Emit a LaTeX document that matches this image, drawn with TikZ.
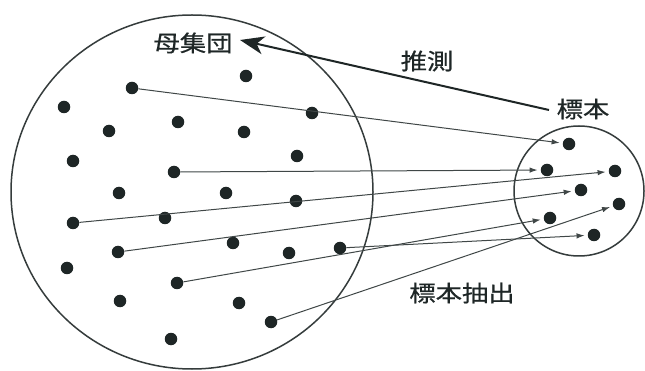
\documentclass[tikz,border=0pt]{standalone}
\usepackage{fontspec}
\newfontfamily\jpfont[FakeBold=0.6]{Noto Sans CJK JP}
\usetikzlibrary{arrows.meta}
\definecolor{ink}{HTML}{1E2626}
\tikzset{
  dot/.style={circle,fill=ink,inner sep=0pt,minimum size=12.5pt},
  lbl/.style={inner sep=0pt,text=ink,font=\jpfont\fontsize{22.5}{24}\selectfont},
  pick/.style={draw=ink!85,line width=1pt,-{Latex[length=8pt,width=5.5pt]},shorten >=3pt},
  infer/.style={draw=ink,line width=2pt,-{Stealth[length=24pt,width=18pt,inset=7pt]}},
  ring/.style={draw=ink!90,line width=1.5pt}
}
\newcommand{\wj}[1]{\scalebox{1.17}[1]{#1}}
\begin{document}
\begin{tikzpicture}[x=1pt,y=-1pt]
\useasboundingbox (0,0) rectangle (645,371);
\fill[white] (0,0) rectangle (645,371);
% circles
\draw[ring] (192,192) ellipse [x radius=181, y radius=177];
\draw[ring] (579,191) circle (65);
% population dots
\node[dot] (p1) at (246,76) {};
\node[dot] (p2) at (132,88) {};
\node[dot] (p3) at (64,107) {};
\node[dot] (p4) at (312,113) {};
\node[dot] (p5) at (178,122) {};
\node[dot] (p6) at (109,131) {};
\node[dot] (p7) at (244,132) {};
\node[dot] (p8) at (73,161) {};
\node[dot] (p9) at (297,156) {};
\node[dot] (p10) at (174,172) {};
\node[dot] (p11) at (119,193) {};
\node[dot] (p12) at (226,193) {};
\node[dot] (p13) at (296,201) {};
\node[dot] (p14) at (73,223) {};
\node[dot] (p15) at (165,218) {};
\node[dot] (p16) at (118,252) {};
\node[dot] (p17) at (233,243) {};
\node[dot] (p18) at (289,253) {};
\node[dot] (p19) at (340,248) {};
\node[dot] (p20) at (67,268) {};
\node[dot] (p21) at (177,283) {};
\node[dot] (p22) at (120,301) {};
\node[dot] (p23) at (239,303) {};
\node[dot] (p24) at (271,322) {};
\node[dot] (p25) at (171,339) {};
% sample dots
\node[dot] (s1) at (569,144) {};
\node[dot] (s2) at (547,170) {};
\node[dot] (s3) at (615,171) {};
\node[dot] (s4) at (581,190) {};
\node[dot] (s5) at (619,204) {};
\node[dot] (s6) at (550,218) {};
\node[dot] (s7) at (594,235) {};
% labels
\node[lbl] (pop) at (193,43) {\wj{母集団}};
\node[lbl] (inf) at (427,61) {\wj{推測}};
\node[lbl] (smp) at (583,109) {\wj{標本}};
\node[lbl] (ext) at (462,293) {\wj{標本抽出}};
% sampling arrows
\draw[pick] (p2) -- (s1);
\draw[pick] (p10) -- (s2);
\draw[pick] (p14) -- (s3);
\draw[pick] (p16) -- (s4);
\draw[pick] (p21) -- (s6);
\draw[pick] (p24) -- (s5);
\draw[pick] (p19) -- (s7);
% inference arrow
\coordinate (infstart) at (549,110);
\coordinate (inftip) at (240,40);
\draw[infer] (infstart) -- (inftip);
\end{tikzpicture}
\end{document}
